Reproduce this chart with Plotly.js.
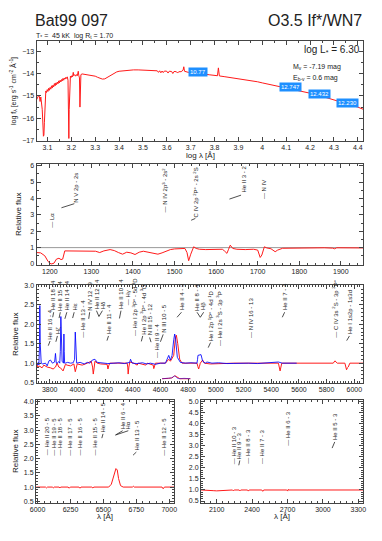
<!DOCTYPE html>
<html><head><meta charset="utf-8">
<script src="https://cdn.plot.ly/plotly-3.0.1.min.js"></script>
<style>html,body{margin:0;padding:0;background:#fff}#c{width:382px;height:541px}</style>
</head><body><div id="c"></div>
<script>
// ---------- Panel 1 : SED ----------
const sedLogLam = [3.054,3.058,3.062,3.066,3.069,3.072,3.075,3.078,3.081,3.083,3.085,3.087,3.089,3.091,3.093,3.096,3.099,3.102,3.105,3.108,3.111,3.114,3.117,3.120,3.123,3.126,3.129,3.132,3.135,3.138,3.141,3.144,3.147,3.150,3.153,3.156,3.159,3.162,3.165,3.168,3.171,3.174,3.177,3.180,3.183,3.186,3.188,3.1895,3.191,3.193,3.196,3.199,3.202,3.205,3.208,3.210,3.214,3.218,3.222,3.225,3.229,3.231,3.234,3.236,3.238,3.240,3.245,3.25,3.26,3.27,3.28,3.29,3.30,3.31,3.32,3.33,3.34,3.35,3.36,3.37,3.38,3.39,3.40,3.42,3.44,3.46,3.48,3.50,3.52,3.54,3.56,3.565,3.57,3.575,3.58,3.585,3.59,3.60,3.605,3.61,3.62,3.625,3.63,3.64,3.645,3.65,3.66,3.668,3.671,3.674,3.68,3.69,3.70,3.71,3.72,3.73,3.74,3.76,3.78,3.80,3.812,3.816,3.82,3.84,3.86,3.88,3.90,3.92,3.94,3.96,3.98,4.00,4.05,4.10,4.15,4.20,4.25,4.30,4.35,4.40,4.423];
const sedLogF = [-15.18,-15.05,-15.0,-15.02,-15.25,-15.05,-15.3,-15.6,-16.3,-16.8,-16.75,-16.2,-15.6,-15.0,-14.78,-14.85,-14.72,-14.8,-14.66,-14.75,-14.62,-14.7,-14.55,-14.65,-14.52,-14.6,-14.45,-14.55,-14.42,-14.5,-14.38,-14.46,-14.33,-14.42,-14.3,-14.38,-14.27,-14.33,-14.22,-14.3,-14.2,-14.25,-14.17,-14.22,-14.15,-14.3,-15.5,-16.9,-15.6,-14.2,-14.12,-14.18,-14.1,-14.15,-13.95,-14.1,-14.05,-14.12,-14.05,-14.1,-13.9,-14.08,-14.2,-15.5,-14.3,-14.05,-14.02,-14.03,-14.02,-14.04,-14.06,-14.08,-14.12,-14.17,-14.22,-14.25,-14.24,-14.18,-14.1,-14.03,-13.97,-13.93,-13.9,-13.87,-13.85,-13.84,-13.84,-13.85,-13.86,-13.87,-13.88,-13.95,-13.88,-13.97,-13.89,-13.96,-13.89,-13.9,-13.98,-13.9,-13.91,-14.0,-13.91,-13.92,-13.98,-13.92,-13.92,-13.85,-13.7,-13.9,-13.93,-13.95,-13.94,-13.96,-13.96,-13.98,-14.0,-14.03,-14.06,-14.08,-14.1,-13.75,-14.11,-14.14,-14.17,-14.19,-14.22,-14.25,-14.28,-14.32,-14.37,-14.42,-14.53,-14.64,-14.76,-14.88,-15.02,-15.17,-15.32,-15.5,-15.6];
const photLogLam = [3.73, 4.117, 4.238, 4.355];
const photLogF = [-13.94, -14.61, -14.93, -15.33];
const photLabel = ['10.77', '12.747', '12.432', '12.230'];

// ---------- Panel 2 : UV ----------
const uvLam = [1168,1178,1188,1196,1203,1210,1216,1222,1227,1231,1236,1250,1265,1280,1295,1310,1320,1330,1345,1355,1365,1375,1385,1395,1405,1415,1425,1440,1450,1460,1470,1480,1490,1500,1515,1525,1530,1534,1539,1546,1552,1560,1575,1595,1615,1620,1626,1630,1634,1640,1650,1670,1690,1700,1706,1710,1716,1722,1732,1742,1748,1760,1780,1800,1820,1840,1860,1880,1885,1890,1910,1930,1955];
const uvFlux = [0.7,0.68,0.5,0.15,0.0,0.05,0.3,0.35,0.27,0.3,0.8,0.8,0.78,0.8,0.82,0.78,0.7,0.8,0.88,0.82,0.7,0.6,0.72,0.68,0.58,0.72,0.78,0.72,0.65,0.6,0.68,0.8,0.88,0.92,0.95,0.95,0.7,0.2,0.6,1.05,0.95,0.9,0.88,0.9,0.9,0.8,0.65,0.9,1.15,0.95,0.9,0.88,0.9,0.85,0.4,0.55,1.05,0.98,0.93,0.75,0.85,0.96,0.97,0.98,0.97,0.98,0.99,0.97,0.93,0.99,1.0,0.99,0.98];

// ---------- Panel 3 : optical ----------
const optObsLam = [3705,3712,3718,3722,3727,3729,3732,3739,3750,3770,3782,3795,3806,3820,3836,3842,3848,3854,3866,3873,3877,3881,3885,3890,3900,3903,3905,3908,3912,3930,3951,3970,3980,3985,3990,3995,4020,4050,4072,4090,4108,4127,4144,4180,4220,4264,4300,4340,4378,4384,4390,4396,4430,4470,4500,4528,4564,4600,4636,4648,4660,4672,4684,4696,4703,4710,4722,4744,4780,4820,4850,4864,4868,4871,4893,4899,4905,4924,4936,4972,5020,5080,5140,5200,5236,5300,5360,5420,5452,5480,5530,5584];
const optObsFlux = [1.0,0.96,1.02,0.95,1.5,2.48,1.5,1.0,0.98,1.0,0.93,1.06,1.08,1.0,1.03,1.25,1.0,1.0,1.04,1.0,1.3,2.2,1.3,1.05,1.0,1.75,1.3,1.0,1.0,1.02,1.0,1.01,1.1,1.8,1.1,1.0,1.02,0.98,1.02,1.0,1.08,1.1,1.02,1.0,0.99,1.0,1.01,0.99,1.02,1.1,1.02,1.0,0.99,1.01,0.98,1.0,0.97,1.0,1.0,1.1,1.2,1.08,1.2,1.6,1.75,1.6,1.15,1.02,1.0,1.01,1.0,1.0,1.1,1.2,1.22,1.15,1.05,1.0,1.03,1.0,1.01,0.99,1.0,1.01,1.0,0.99,1.0,1.01,1.03,1.0,1.0,1.0];
const optModLam = [3705,3715,3729,3745,3758,3782,3806,3825,3842,3854,3866,3878,3897,3914,3926,3951,3975,3985,3999,4035,4072,4100,4110,4115,4122,4127,4144,4168,4215,4221,4228,4235,4288,4360,4364,4367,4372,4379,4408,4432,4440,4494,4504,4548,4552,4558,4564,4636,4660,4672,4696,4708,4715,4725,4739,4756,4864,4870,4876,4882,4888,4905,4917,4960,5128,5452,5458,5464,5470,5476,5608,5848,5860,5877,5932,5940,5944,5950,5956,5968,6064];
const optModFlux = [1.0,0.9,0.92,0.88,0.95,0.9,0.88,0.85,0.9,1.0,0.9,0.88,0.8,0.97,0.95,0.93,0.98,0.78,0.98,0.95,1.0,1.05,0.9,0.72,0.9,1.05,1.0,0.98,0.97,0.85,0.95,1.0,1.0,1.0,0.9,0.72,0.9,1.03,1.0,0.95,1.0,0.95,1.0,0.95,0.86,0.95,1.0,1.0,1.1,1.05,1.2,1.65,1.72,1.5,1.1,1.0,1.0,0.92,0.85,0.92,1.0,1.08,1.0,0.98,1.0,1.0,0.9,0.8,0.9,1.0,1.0,1.0,1.06,1.0,1.0,0.9,0.83,0.88,0.9,1.0,1.0];
const insetLam = [4612,4640,4660,4680,4692,4703,4712,4722,4740,4770,4816];
const insetModFlux = [0.6,0.6,0.61,0.62,0.64,0.68,0.66,0.62,0.6,0.6,0.6];
const insetObsFlux = [0.6,0.61,0.6,0.62,0.65,0.67,0.65,0.61,0.6,0.61,0.6];

// ---------- Panel 4 : red ----------
const redLam = [5990,6060,6068,6076,6112,6119,6126,6163,6170,6177,6232,6240,6248,6314,6322,6330,6412,6420,6428,6500,6540,6560,6580,6595,6605,6615,6630,6650,6720,6727,6734,6945,6954,6963,7036];
const redFlux = [1.0,1.0,0.97,1.0,1.0,0.97,1.0,1.0,0.97,1.0,1.0,0.96,1.0,1.0,0.96,1.0,1.0,0.97,1.0,0.99,1.0,1.1,1.4,1.65,1.6,1.3,1.05,1.0,1.0,1.03,1.0,1.0,0.94,1.0,1.0];

// ---------- Panel 5 : near UV ----------
const nuvLam = [1967,2040,2070,2100,2130,2160,2234,2241,2248,2290,2297,2304,2361,2368,2375,2482,2490,2498,2694,2702,2706,2712,2900,3100,3200,3342];
const nuvFlux = [1.0,1.0,0.97,0.96,0.97,1.0,1.0,0.96,1.0,1.0,0.96,1.0,1.0,0.95,1.0,1.0,0.94,1.0,1.0,0.95,1.03,1.0,1.0,1.0,1.01,1.0];

// ---------- line identifications ----------
const uvLabText = ['— Lα','N V 2p - 2s','— N IV 2p<sup>3</sup> - 2s<sup>2</sup>','C IV 2p <sup>2</sup>P° - 2s <sup>2</sup>S','He II 3 - 2','— N IV'];
const uvLabLam = [1205,1264,1476,1552,1666,1714];
const uvLabLevel = [2.18,3.7,3.09,2.79,4.3,3.9];
const uvLeaders = [[1228,3.43,1259,3.68],[1540,2.67,1550,2.78],[1632,3.96,1660,4.2]];

const optLabText = ['He II 16 - 4','Hζ','He II 18 - 4','He II 15 - 4','He II 14 - 4','Hε','— He II 13 - 4','N IV 12 - 9','He II 12 - 4','Hδ','He II 11 - 4','He II 10 - 4','— Hγ','— He I 2p <sup>3</sup>P° - 5d <sup>3</sup>D','He I 2p <sup>3</sup>P° - 4d <sup>3</sup>D','N III 15 - 12','— He II 9 - 4','N III 10 - 5','He II 4 - 3','He II 8 - 4','Hβ','He I 2p <sup>1</sup>P° - 4d <sup>1</sup>D','— He I 2s <sup>3</sup>S - 3p <sup>3</sup>P','— N IV 16 - 13','He II 7 - 4','— C IV 3s <sup>2</sup>S - 3p <sup>2</sup>P°','He I 1s2p - 1s3d'];
const optLabLam = [3806,3858,3830,3878,3926,3979,4042,4090,4138,4181,4227,4316,4364,4412,4474,4522,4570,4624,4756,4864,4912,4965,5028,5249,5500,5861,5968];
const optLabLevel = [1.59,1.72,2.33,2.33,2.33,2.33,1.63,2.33,2.37,2.37,1.72,2.37,2.47,1.68,1.72,1.68,1.1,1.76,2.33,2.33,2.33,1.55,1.42,1.63,2.33,1.63,1.72];
const optLeaders = [[3790,1.45,3803,1.57],[3845,1.55,3856,1.7],[3822,2.18,3829,2.31],[3868,2.16,3877,2.31],[3910,2.14,3924,2.31],[3966,2.16,3977,2.31],[4082,2.14,4089,2.31],[4138,2.35,4156,2.2],[4181,2.35,4156,2.2],[4214,1.58,4225,1.7],[4304,2.15,4315,2.35],[4462,1.56,4472,1.7],[4532,1.54,4522,1.66],[4600,1.55,4620,1.74],[4720,2.18,4752,2.31],[4864,2.31,4888,2.18],[4912,2.31,4888,2.18],[4945,1.4,4962,1.53],[5480,2.18,5497,2.31],[5945,1.58,5965,1.7]];

const redLabText = ['— He II 20 - 5','— He II 19 - 5','— He II 18 - 5','— He II 17 - 5','— He II 16 - 5','— He II 15 - 5','He II 14 - 5','He II 6 - 4','Hα','He II 13 - 5','— He II 12 - 5'];
const redLabLam = [6068,6119,6170,6240,6322,6435,6499,6646,6689,6752,6954];
const redLabLevel = [2.07,2.07,2.07,2.07,2.07,2.07,2.89,3.0,3.0,2.24,2.07];
const redLeaders = [[6488,2.72,6497,2.87],[6592,2.83,6646,2.98],[6592,2.83,6689,2.98],[6725,2.12,6750,2.23]];

const nuvLabText = ['— He II 10 - 3','He II 9 - 3','— He II 8 - 3','— He II 7 - 3','— He II 6 - 3','He II 5 - 3'];
const nuvLabLam = [2241,2297,2368,2490,2702,3103];
const nuvLabLevel = [2.14,2.36,2.14,2.14,2.97,3.2];
const nuvLeaders = [[2287,2.12,2296,2.34],[3078,2.9,3100,3.18]];

// ---------- build ----------
const RED = '#ff1a1a', BLUE = '#0000ff';
const FONT = 'Liberation Sans, Arial, Helvetica, sans-serif';
const traces = [
  {x: sedLogLam, y: sedLogF, xaxis:'x', yaxis:'y', mode:'lines', line:{color:RED, width:1}},
  {x: [1168,1954], y:[1,1], xaxis:'x2', yaxis:'y2', mode:'lines', line:{color:'#999', width:1}},
  {x: uvLam, y: uvFlux, xaxis:'x2', yaxis:'y2', mode:'lines', line:{color:RED, width:1}},
  {x: optModLam, y: optModFlux, xaxis:'x3', yaxis:'y3', mode:'lines', line:{color:RED, width:1}},
  {x: optObsLam, y: optObsFlux, xaxis:'x3', yaxis:'y3', mode:'lines', line:{color:BLUE, width:1}, opacity:0.85},
  {x: insetLam, y: insetModFlux, xaxis:'x3', yaxis:'y3', mode:'lines', line:{color:RED, width:1}},
  {x: insetLam, y: insetObsFlux, xaxis:'x3', yaxis:'y3', mode:'lines', line:{color:BLUE, width:1}, opacity:0.5},
  {x: redLam, y: redFlux, xaxis:'x4', yaxis:'y4', mode:'lines', line:{color:RED, width:1}},
  {x: nuvLam, y: nuvFlux, xaxis:'x5', yaxis:'y5', mode:'lines', line:{color:RED, width:1}}
];

const annotations = [];
const shapes = [];
function pp(x){return x/382;}
function py(y){return 1 - y/541;}
function txt(text, x, y, size, xa, ya, extra){
  annotations.push(Object.assign({text:text, x:pp(x), y:py(y), xref:'paper', yref:'paper', showarrow:false, xanchor:xa, yanchor:ya, borderpad:0, font:{family:FONT, size:size, color:'#222'}}, extra||{}));
}
txt('Bat99 097', 34, 30, 16, 'left', 'bottom');
txt('O3.5 If*/WN7', 363, 30, 16, 'right', 'bottom');
txt('T<sub>*</sub> =  45 kK  log R<sub>t</sub> = 1.70', 35, 30.5, 7, 'left', 'top');
txt('log L<sub>*</sub> = 6.30', 361, 50, 10, 'right', 'middle');
txt('M<sub>v</sub> = -7.19 mag', 292, 67, 7, 'left', 'middle');
txt('E<sub>b-v</sub> = 0.6 mag', 292, 78, 7, 'left', 'middle');
txt('log f<sub>λ</sub> [erg s<sup>-1</sup> cm<sup>-2</sup> Å<sup>-1</sup>]', 13, 91, 7, 'center', 'middle', {textangle:-90});
txt('log λ [Å]', 200, 155, 8, 'center', 'middle');
txt('Relative flux', 18, 214, 8, 'center', 'middle', {textangle:-90});
txt('Relative flux', 15, 334, 8, 'center', 'middle', {textangle:-90});
txt('Relative flux', 15, 451, 8, 'center', 'middle', {textangle:-90});
txt('λ [Å]', 105, 516, 8, 'center', 'middle');
txt('λ [Å]', 282, 516, 8, 'center', 'middle');

photLogLam.forEach((lx, i) => {
  annotations.push({text: photLabel[i], x: lx, y: photLogF[i], xref:'x', yref:'y', showarrow:false,
    bgcolor:'#1e8fff', borderpad:1, font:{family:FONT, size:6, color:'#fff'}});
});

function addLabels(texts, lams, levels, leaders, ax){
  texts.forEach((t, i) => {
    annotations.push({text:t, x:lams[i], y:levels[i], xref:'x'+ax, yref:'y'+ax, showarrow:false,
      textangle:-90, xanchor:'center', yanchor:'bottom', borderpad:0,
      font:{family:FONT, size:6, color:'#222'}});
  });
  leaders.forEach(s => {
    shapes.push({type:'line', xref:'x'+ax, yref:'y'+ax, x0:s[0], y0:s[1], x1:s[2], y1:s[3], line:{color:'#222', width:0.8}});
  });
}
addLabels(uvLabText, uvLabLam, uvLabLevel, uvLeaders, '2');
addLabels(optLabText, optLabLam, optLabLevel, optLeaders, '3');
addLabels(redLabText, redLabLam, redLabLevel, redLeaders, '4');
addLabels(nuvLabText, nuvLabLam, nuvLabLevel, nuvLeaders, '5');

function ax(domain, range, dtick, minor, extra){
  return Object.assign({domain:domain, range:range, dtick:dtick, tick0:0, ticks:'inside', ticklen:4, tickwidth:1, tickcolor:'#444',
    minor:{ticks:'inside', ticklen:2, dtick:minor, tickcolor:'#444'},
    showline:true, linecolor:'#444', linewidth:1, mirror:'allticks', showgrid:false, zeroline:false,
    tickfont:{family:FONT, size:7, color:'#222'}, fixedrange:true}, extra||{});
}
const xd1 = [pp(36.5), pp(363.3)];
const layout = {
  width:382, height:541, margin:{l:0, r:0, t:0, b:0}, showlegend:false,
  paper_bgcolor:'#fff', plot_bgcolor:'#fff',
  xaxis: ax(xd1, [3.054, 4.423], 0.1, 0.05, {anchor:'y'}),
  yaxis: ax([py(140.7), py(41)], [-17, -12.55], 1, 0.5, {anchor:'x'}),
  xaxis2: ax(xd1, [1168, 1954], 100, 20, {anchor:'y2'}),
  yaxis2: ax([py(265), py(164)], [-0.06, 6.1], 1, 0.5, {anchor:'x2'}),
  xaxis3: ax(xd1, [3705, 6065], 200, 20, {anchor:'y3'}),
  yaxis3: ax([py(383), py(285)], [0.49, 3.01], 0.5, 0.1, {anchor:'x3', tickformat:'.1f'}),
  xaxis4: ax([pp(36), pp(174)], [5988, 7036], 250, 50, {anchor:'y4'}),
  yaxis4: ax([py(503), py(400)], [0.44, 4.06], 0.5, 0.1, {anchor:'x4', tickformat:'.1f'}),
  xaxis5: ax([pp(201), pp(363.3)], [1967, 3342], 300, 50, {anchor:'y5'}),
  yaxis5: ax([py(503), py(400)], [0.41, 5.08], 0.5, 0.1, {anchor:'x5', tickformat:'.1f'}),
  annotations: annotations, shapes: shapes
};
Plotly.newPlot('c', traces, layout, {displayModeBar:false, staticPlot:true});
</script></body></html>
